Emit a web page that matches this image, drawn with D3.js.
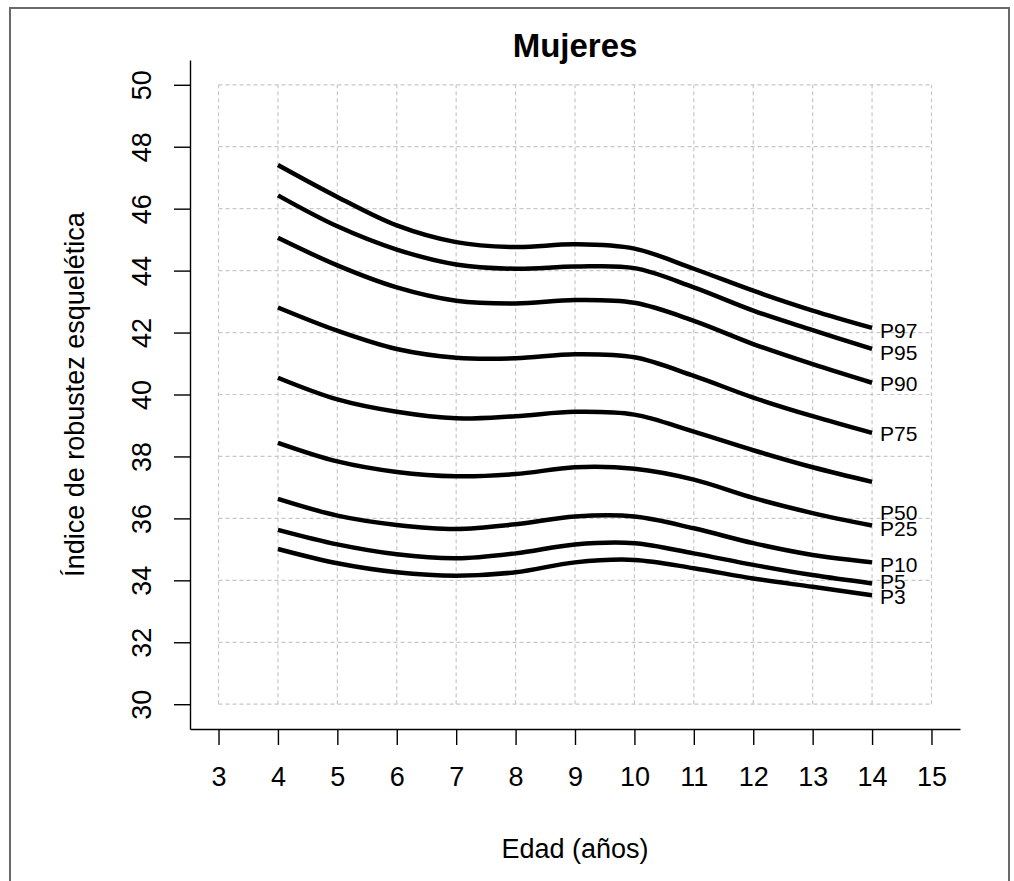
<!DOCTYPE html>
<html>
<head>
<meta charset="utf-8">
<script src="https://cdn.jsdelivr.net/npm/d3@7"></script>
<style>
  html, body { margin: 0; padding: 0; background: #fff; }
  svg text { font-family: "Liberation Sans", Arial, sans-serif; fill: #000; }
</style>
</head>
<body>
<svg id="chart" width="1014" height="881"></svg>
<script>
// Ages (years) at which the percentile curves are tabulated
const ages = [4, 5, 6, 7, 8, 9, 10, 11, 12, 13, 14];

// Skeletal robustness index percentiles, girls
const p97 = [47.41, 46.38, 45.46, 44.92, 44.76, 44.85, 44.71, 44.06, 43.35, 42.71, 42.15];
const p95 = [46.43, 45.43, 44.68, 44.20, 44.06, 44.13, 44.08, 43.46, 42.71, 42.08, 41.47];
const p90 = [45.06, 44.17, 43.46, 43.03, 42.94, 43.05, 42.96, 42.38, 41.63, 40.98, 40.38];
const p75 = [42.81, 42.06, 41.47, 41.19, 41.17, 41.30, 41.20, 40.60, 39.90, 39.30, 38.76];
const p50 = [40.54, 39.84, 39.44, 39.23, 39.30, 39.44, 39.35, 38.80, 38.20, 37.65, 37.18];
const p25 = [38.44, 37.84, 37.50, 37.36, 37.43, 37.65, 37.60, 37.25, 36.66, 36.17, 35.77];
const p10 = [36.63, 36.09, 35.79, 35.66, 35.81, 36.06, 36.06, 35.68, 35.20, 34.82, 34.58];
const p5  = [35.63, 35.16, 34.84, 34.71, 34.87, 35.16, 35.20, 34.87, 34.50, 34.17, 33.90];
const p3  = [35.01, 34.55, 34.26, 34.15, 34.26, 34.58, 34.66, 34.39, 34.06, 33.79, 33.52];

// Curve labels and the index value at which each label is written (at age 14)
const labelNames = ["P97", "P95", "P90", "P75", "P50", "P25", "P10", "P5", "P3"];
const labelValues = [42.08, 41.36, 40.35, 38.73, 36.20, 35.68, 34.50, 33.95, 33.47];

// Axis ticks
const xTicks = [3, 4, 5, 6, 7, 8, 9, 10, 11, 12, 13, 14, 15];
const yTicks = [30, 32, 34, 36, 38, 40, 42, 44, 46, 48, 50];

const series = [p97, p95, p90, p75, p50, p25, p10, p5, p3];

const svg = d3.select("#chart");

// Outer figure frame
svg.append("rect")
  .attr("x", 10).attr("y", 8)
  .attr("width", 999).attr("height", 900)
  .attr("fill", "none")
  .attr("stroke", "#6a6a6a")
  .attr("stroke-width", 2);

// Scales: data range padded by 4% on each side
const x = d3.scaleLinear().domain([2.52, 15.48]).range([190, 960]);
const y = d3.scaleLinear().domain([29.2, 50.8]).range([729, 60]);

// Dotted grid
const grid = svg.append("g")
  .attr("stroke", "#c8c8c8")
  .attr("stroke-width", 1.2)
  .attr("stroke-dasharray", "4,3");
grid.selectAll("line.v").data(xTicks).join("line")
  .attr("class", "v")
  .attr("x1", d => x(d)).attr("x2", d => x(d))
  .attr("y1", y(30)).attr("y2", y(50));
grid.selectAll("line.h").data(yTicks).join("line")
  .attr("class", "h")
  .attr("y1", d => y(d)).attr("y2", d => y(d))
  .attr("x1", x(3)).attr("x2", x(15));

// Axes
const xAxis = svg.append("g")
  .attr("transform", `translate(0,${y.range()[0]})`)
  .call(d3.axisBottom(x).tickValues(xTicks).tickSize(16).tickPadding(22).tickSizeOuter(0));
const yAxis = svg.append("g")
  .attr("transform", `translate(${x.range()[0]},0)`)
  .call(d3.axisLeft(y).tickValues(yTicks).tickSize(16).tickSizeOuter(0));

[xAxis, yAxis].forEach(g => {
  g.select(".domain").attr("stroke", "#000").attr("stroke-width", 1.4);
  g.selectAll(".tick line").attr("stroke", "#000").attr("stroke-width", 1.4);
  g.selectAll(".tick text")
    .attr("font-family", "'Liberation Sans', Arial, sans-serif")
    .attr("font-size", 27)
    .attr("fill", "#000");
});

// Y tick labels are drawn parallel to the axis
yAxis.selectAll(".tick text")
  .attr("x", null)
  .attr("text-anchor", "middle")
  .attr("transform", "translate(-49,0) rotate(-90)")
  .attr("dy", "0.36em");

// Percentile curves
const line = d3.line()
  .x((d, i) => x(ages[i]))
  .y(d => y(d))
  .curve(d3.curveCatmullRom.alpha(0.5));

svg.append("g").selectAll("path").data(series).join("path")
  .attr("d", d => line(d))
  .attr("fill", "none")
  .attr("stroke", "#000")
  .attr("stroke-width", 4.5)
  .attr("stroke-linejoin", "round")
  .attr("stroke-linecap", "butt");

// Curve labels
svg.append("g").selectAll("text").data(labelNames).join("text")
  .attr("x", x(14) + 8)
  .attr("y", (d, i) => y(labelValues[i]))
  .attr("dy", "0.36em")
  .attr("font-size", 21)
  .text(d => d);

// Title and axis titles
svg.append("text")
  .attr("x", x(9)).attr("y", 57)
  .attr("text-anchor", "middle")
  .attr("font-size", 33)
  .attr("font-weight", "bold")
  .text("Mujeres");

svg.append("text")
  .attr("x", x(9)).attr("y", 858)
  .attr("text-anchor", "middle")
  .attr("font-size", 27)
  .text("Edad (años)");

svg.append("text")
  .attr("transform", `translate(84,${y(40)}) rotate(-90)`)
  .attr("text-anchor", "middle")
  .attr("font-size", 27)
  .text("Índice de robustez esquelética");
</script>
</body>
</html>
